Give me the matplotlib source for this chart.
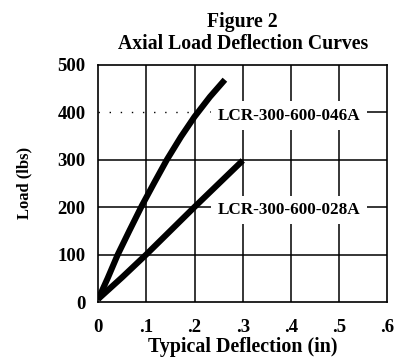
import numpy as np
import matplotlib
matplotlib.use("Agg")
import matplotlib.pyplot as plt

plt.rcParams['font.family'] = ['Liberation Serif', 'DejaVu Serif']
plt.rcParams['font.weight'] = 'bold'

# curve data
defl_046a = [0.0, 0.02, 0.041, 0.065, 0.091, 0.117, 0.143, 0.172, 0.2, 0.232, 0.263]
load_046a = [5, 50, 100, 150, 203, 252, 300, 348, 390, 432, 468]
defl_028a = [0.0, 0.05, 0.1, 0.2, 0.3]
load_028a = [6, 52, 100, 200, 298]

xticks = [0, 0.1, 0.2, 0.3, 0.4, 0.5, 0.6]
xticklabels = ['0', '.1', '.2', '.3', '.4', '.5', '.6']
yticks = [0, 100, 200, 300, 400, 500]

fig = plt.figure(figsize=(3.96, 3.58), dpi=100)
ax = fig.add_axes([0.2475, 0.1564, 0.731, 0.6634])

for x in xticks[1:-1]:
    ax.axvline(x, color='black', lw=1.1, zorder=1)
for y in yticks[1:-1]:
    if y == 400:
        # scanned line is broken on the left side
        ax.axhline(y, xmin=0, xmax=0.33, color='black', lw=1.0, ls=(0, (1, 7)), zorder=1)
        ax.axhline(y, xmin=0.39, xmax=1, color='black', lw=1.1, zorder=1)
    else:
        ax.axhline(y, color='black', lw=1.1, zorder=1)

ax.plot(defl_046a, load_046a, color='black', lw=4.4, solid_capstyle='butt',
        solid_joinstyle='round', zorder=3)
ax.plot(defl_028a, load_028a, color='black', lw=4.4, solid_capstyle='butt',
        solid_joinstyle='round', zorder=3)

box = dict(facecolor='white', edgecolor='none', pad=4.5)
ax.text(0.396, 392, 'LCR-300-600-046A', ha='center', va='center', fontsize=12.3,
        fontweight='bold', bbox=box, zorder=2)
ax.text(0.396, 194, 'LCR-300-600-028A', ha='center', va='center', fontsize=12.3,
        fontweight='bold', bbox=box, zorder=2)

ax.set_xlim(0, 0.6)
ax.set_ylim(0, 500)
ax.set_xticks(xticks)
ax.set_xticklabels(xticklabels)
ax.set_yticks(yticks)
ax.tick_params(axis='y', length=0, pad=9, labelsize=13.5)
ax.tick_params(axis='x', length=0, pad=12, labelsize=13.5)
for s in ax.spines.values():
    s.set_linewidth(1.2)

ax.set_xlabel('Typical Deflection (in)', fontsize=14.4, fontweight='bold', labelpad=1)
ax.set_ylabel('Load (lbs)', fontsize=12, fontweight='bold', labelpad=18)
ax.set_title('Figure 2\nAxial Load Deflection Curves', fontsize=14.2,
             fontweight='bold', pad=11, linespacing=1.15)

fig.savefig('out.png', dpi=100)
